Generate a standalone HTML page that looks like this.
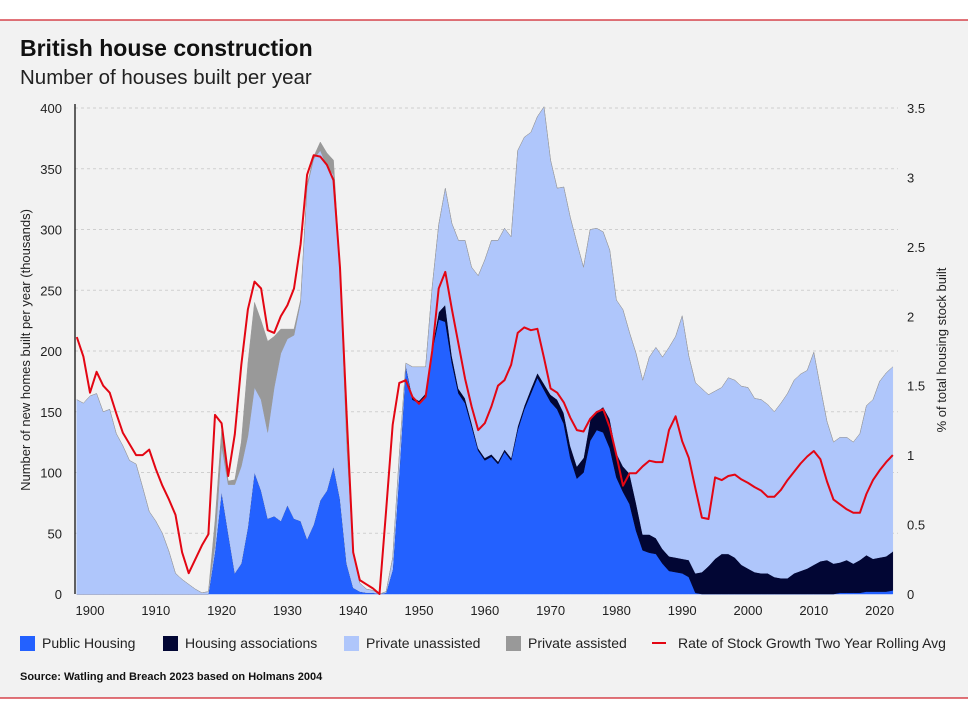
<!DOCTYPE html>
<html><head><meta charset="utf-8"><style>
html,body{margin:0;padding:0;background:#fff;}
svg{display:block;font-family:"Liberation Sans",sans-serif;}
</style></head><body>
<svg id="chart" width="968" height="719" viewBox="0 0 968 719">
<rect x="0" y="20" width="968" height="678" fill="#f2f2f2"/>
<line x1="0" y1="20" x2="968" y2="20" stroke="#d0202a" stroke-width="1.2"/>
<line x1="0" y1="698" x2="968" y2="698" stroke="#d0202a" stroke-width="1.2"/>
<text x="20" y="56" font-size="23" font-weight="bold" fill="#111">British house construction</text>
<text x="20" y="84" font-size="20.5" fill="#222">Number of houses built per year</text>
<g id="grid"></g>
<g id="areas"></g>
<g id="lines"></g>
<g id="axes"></g>
<text transform="translate(30,350) rotate(-90)" text-anchor="middle" font-size="13" fill="#222">Number of new homes built per year (thousands)</text>
<text transform="translate(946,350) rotate(-90)" text-anchor="middle" font-size="13" fill="#222">% of total housing stock built</text>
<g>
<g><rect x="20" y="636" width="15" height="15" fill="#2361ff"/><text x="42" y="648" font-size="14" fill="#222">Public Housing</text></g>
<g><rect x="163" y="636" width="15" height="15" fill="#020634"/><text x="185" y="648" font-size="14" fill="#222">Housing associations</text></g>
<g><rect x="344" y="636" width="15" height="15" fill="#afc6fb"/><text x="366" y="648" font-size="14" fill="#222">Private unassisted</text></g>
<g><rect x="506" y="636" width="15" height="15" fill="#999999"/><text x="528" y="648" font-size="14" fill="#222">Private assisted</text></g>
<g><line x1="652" y1="643" x2="666" y2="643" stroke="#e30613" stroke-width="2"/><text x="678" y="648" font-size="14" fill="#222">Rate of Stock Growth Two Year Rolling Avg</text></g>
</g>
<text x="20" y="680" font-size="11" font-weight="bold" fill="#111">Source: Watling and Breach 2023 based on Holmans 2004</text>
</svg>
<script>
const startYear = 1898;
const publicHousing = [0,0,0,0,0,0,0,0,0,0,0,0,0,0,0,0,0,0,0,0,0,35,84,50,17,25,55,100,85,62,64,60,73,62,60,45,57,77,85,105,78,25,5,2,1,1,0,1,20,100,188,160,157,163,200,226,224,190,165,157,138,118,110,113,107,117,110,135,152,165,178,168,158,152,140,112,95,100,126,135,133,120,96,84,74,52,36,34,33,25,19,18,17,14,1,0,0,0,0,0,0,0,0,0,0,0,0,0,0,0,0,0,0,0,0,0,1,1,1,1,2,2,2,2,3];
const housingAssoc = [0,0,0,0,0,0,0,0,0,0,0,0,0,0,0,0,0,0,0,0,0,0,0,0,0,0,0,0,0,0,0,0,0,0,0,0,0,0,0,0,0,0,0,0,0,0,0,0,0,0,0,2,2,2,3,6,14,6,4,4,3,2,2,2,2,2,2,3,3,4,4,5,6,8,9,10,10,12,17,15,21,24,20,21,25,23,13,15,13,12,12,12,12,14,16,18,23,29,33,33,30,24,21,18,17,17,14,13,13,17,19,21,24,27,28,25,25,27,24,27,30,27,28,29,32];
const privateUnassisted = [160,157,163,165,150,152,132,122,110,107,88,68,60,50,35,17,12,8,4,1,2,5,38,40,73,80,75,70,75,71,106,138,137,151,180,290,301,288,267,240,190,100,28,7,3,2,0,1,10,15,2,25,28,22,50,72,96,109,122,130,128,142,163,176,182,182,182,227,221,211,211,228,193,174,186,188,184,157,157,151,144,139,126,129,116,123,127,146,157,158,172,182,200,168,157,151,141,138,137,145,146,147,149,143,143,139,136,144,152,159,162,163,175,143,114,100,103,101,100,104,123,131,145,151,152];
const privateAssisted = [0,0,0,0,0,0,0,0,0,0,0,0,0,0,0,0,0,0,0,0,0,20,13,3,4,20,60,70,65,75,42,20,8,5,2,2,2,7,11,12,0,0,0,0,0,0,0,0,0,0,0,0,0,0,0,0,0,0,0,0,0,0,0,0,0,0,0,0,0,0,0,0,0,0,0,0,0,0,0,0,0,0,0,0,0,0,0,0,0,0,0,0,0,0,0,0,0,0,0,0,0,0,0,0,0,0,0,0,0,0,0,0,0,0,0,0,0,0,0,0,0,0,0,0,0];
const stockGrowthRate = [1.85,1.71,1.45,1.60,1.50,1.45,1.30,1.16,1.08,1.00,1.00,1.04,0.90,0.78,0.68,0.57,0.30,0.15,0.25,0.35,0.43,1.29,1.23,0.85,1.15,1.65,2.05,2.25,2.20,1.90,1.88,2.00,2.08,2.20,2.52,3.02,3.16,3.15,3.09,2.98,2.35,1.30,0.30,0.10,0.07,0.04,0.00,0.60,1.22,1.52,1.54,1.42,1.37,1.42,1.75,2.20,2.32,2.05,1.80,1.55,1.35,1.18,1.23,1.35,1.50,1.54,1.65,1.88,1.92,1.90,1.91,1.70,1.48,1.45,1.38,1.27,1.18,1.17,1.26,1.31,1.33,1.20,1.00,0.78,0.87,0.87,0.92,0.96,0.95,0.95,1.18,1.28,1.10,0.98,0.76,0.55,0.54,0.84,0.82,0.85,0.86,0.825,0.80,0.77,0.745,0.70,0.70,0.75,0.82,0.88,0.94,0.99,1.03,0.97,0.81,0.68,0.645,0.61,0.585,0.585,0.72,0.82,0.89,0.95,1.00];
const leftTicks = [0,50,100,150,200,250,300,350,400];
const rightTicks = [0,0.5,1,1.5,2,2.5,3,3.5];
const rightTickLabels = ["0","0.5","1","1.5","2","2.5","3","3.5"];
const xTicks = [1900,1910,1920,1930,1940,1950,1960,1970,1980,1990,2000,2010,2020];

const NS="http://www.w3.org/2000/svg";
const X0=75, X1=898, Y0=594, Y1=108;
function xs(year){return 90+(year-1900)*6.58;}
function yl(v){return Y0-(v/400)*(Y0-Y1);}
function yr(v){return Y0-(v/3.5)*(Y0-Y1);}
function mk(tag,attrs,parent){const e=document.createElementNS(NS,tag);for(const k in attrs)e.setAttribute(k,attrs[k]);parent.appendChild(e);return e;}

const grid=document.getElementById('grid');
leftTicks.forEach(t=>{ if(t===0)return;
  const l=mk('line',{x1:X0,x2:X1,y1:yl(t),y2:yl(t),stroke:'#cfcfcf','stroke-dasharray':'3,3','stroke-width':1},grid);
  
  
});

const n=publicHousing.length;
const series=[
 {vals:publicHousing,color:'#2361ff',name:'area-public-housing'},
 {vals:housingAssoc,color:'#020634',name:'area-housing-associations'},
 {vals:privateUnassisted,color:'#afc6fb',name:'area-private-unassisted'},
 {vals:privateAssisted,color:'#999999',name:'area-private-assisted'}
];
const base=new Array(n).fill(0);
const areas=document.getElementById('areas');
series.forEach(s=>{
  const top=base.map((b,i)=>b+s.vals[i]);
  let d='';
  for(let i=0;i<n;i++){d+=(i?'L':'M')+xs(startYear+i).toFixed(1)+','+yl(top[i]).toFixed(1);}
  for(let i=n-1;i>=0;i--){d+='L'+xs(startYear+i).toFixed(1)+','+yl(base[i]).toFixed(1);}
  d+='Z';
  const p=mk('path',{d:d,fill:s.color,stroke:s.color,'stroke-width':0.5},areas);
  
  
  for(let i=0;i<n;i++)base[i]=top[i];
});

const lines=document.getElementById('lines');
let d='';
stockGrowthRate.forEach((v,i)=>{d+=(i?'L':'M')+xs(startYear+i).toFixed(1)+','+yr(v).toFixed(1);});
const rl=mk('path',{d:d,fill:'none',stroke:'#e30613','stroke-width':2,'stroke-linejoin':'round'},lines);



const axes=document.getElementById('axes');
const al=mk('line',{x1:X0,x2:X0,y1:104,y2:Y0,stroke:'#000','stroke-width':1.2},axes);


leftTicks.forEach(t=>{
  const tx=mk('text',{x:62,y:yl(t)+5,'text-anchor':'end','font-size':13,fill:'#222'},axes);
  tx.textContent=t;
  
  
});
rightTicks.forEach((t,i)=>{
  const tx=mk('text',{x:907,y:yr(t)+5,'font-size':13,fill:'#222'},axes);
  tx.textContent=rightTickLabels[i];
  
  
});
xTicks.forEach(t=>{
  const tx=mk('text',{x:xs(t),y:615,'text-anchor':'middle','font-size':13,fill:'#222'},axes);
  tx.textContent=t;
  
  
});
</script>
</body></html>
